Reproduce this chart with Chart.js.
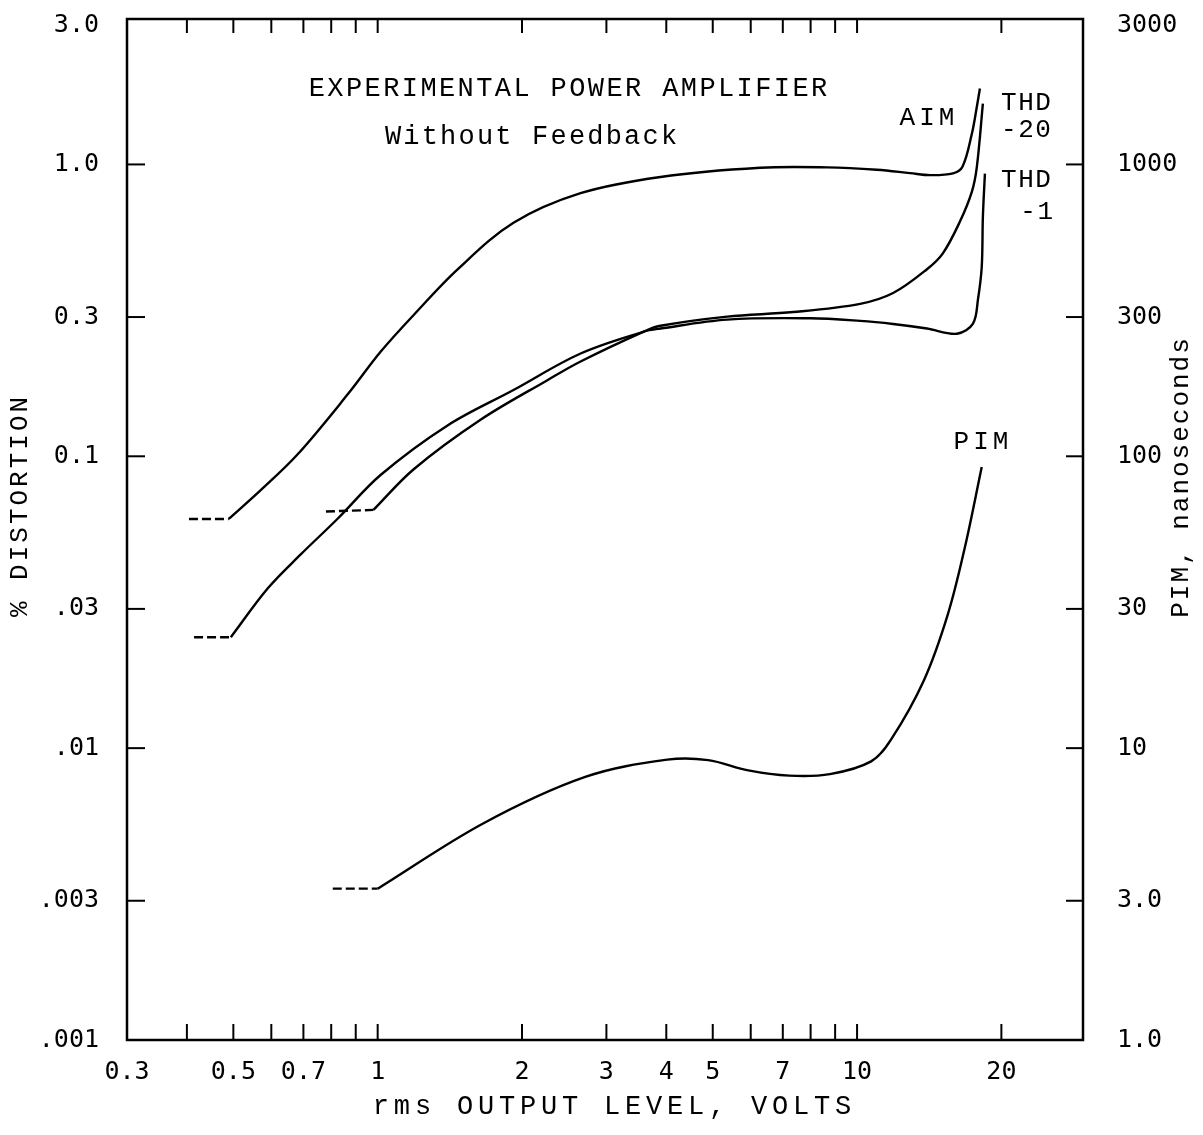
<!DOCTYPE html>
<html>
<head>
<meta charset="utf-8">
<script src="https://cdn.jsdelivr.net/npm/chart.js@4.4.1/dist/chart.umd.min.js"></script>
<style>
  html, body { margin: 0; padding: 0; background: #fff; }
  canvas { display: block; }
</style>
</head>
<body>
<canvas id="ampChart" width="1203" height="1135"></canvas>
<script>
// output level (V rms) vs % distortion
// the first two points of each curve are the dashed lead-in
const aimVolts = [0.404, 0.489, 0.571, 0.681, 0.866, 1.014, 1.189, 1.468, 1.92, 2.65, 3.89, 6.28, 8.66, 11.0, 12.9, 14.2, 15.85, 16.6, 17.36, 17.78, 18.04];
const aimPct   = [0.061, 0.061, 0.0767, 0.1016, 0.163, 0.228, 0.305, 0.437, 0.631, 0.797, 0.906, 0.974, 0.977, 0.959, 0.934, 0.919, 0.932, 0.984, 1.276, 1.58, 1.82];

const thd1Volts = [0.414, 0.494, 0.590, 0.691, 0.825, 1.014, 1.399, 1.92, 2.65, 3.58, 3.89, 5.36, 7.98, 10.15, 11.89, 13.99, 16.16, 17.45, 17.87, 18.2, 18.3, 18.48];
const thd1Pct   = [0.024, 0.024, 0.0353, 0.0461, 0.0611, 0.0863, 0.1276, 0.1687, 0.225, 0.267, 0.274, 0.294, 0.297, 0.291, 0.284, 0.274, 0.263, 0.285, 0.344, 0.446, 0.662, 0.93];

const thd20Volts = [0.78, 0.98, 1.189, 1.639, 2.26, 2.65, 3.58, 3.89, 5.36, 7.36, 10.15, 11.89, 13.99, 15.1, 16.39, 17.36, 17.78, 18.3];
const thd20Pct   = [0.0647, 0.0655, 0.0903, 0.1334, 0.1823, 0.2113, 0.267, 0.280, 0.301, 0.312, 0.333, 0.3626, 0.4375, 0.496, 0.637, 0.807, 0.983, 1.617];

// PIM in nanoseconds (right axis)
const pimVolts = [0.806, 1.0, 1.663, 2.71, 4.02, 4.89, 5.93, 7.22, 8.78, 10.7, 11.77, 13.79, 15.47, 16.79, 18.2];
const pimNs    = [3.3, 3.3, 5.53, 7.97, 9.13, 9.10, 8.39, 8.05, 8.15, 9.01, 10.7, 17.1, 28.8, 48.9, 91.9];

// axes
const xTickValues = [0.3, 0.5, 0.7, 1, 2, 3, 4, 5, 7, 10, 20];
const xTickLabels = ['0.3', '0.5', '0.7', '1', '2', '3', '4', '5', '7', '10', '20'];
const xTickMarks = [0.4, 0.5, 0.6, 0.7, 0.8, 0.9, 1, 2, 3, 4, 5, 6, 7, 8, 9, 10, 20];
const yTickValues = [3, 1, 0.3, 0.1, 0.03, 0.01, 0.003, 0.001];
const yTickLabels = ['3.0', '1.0', '0.3', '0.1', '.03', '.01', '.003', '.001'];
const yTickMarks = [1, 0.3, 0.1, 0.03, 0.01, 0.003];
const y2TickValues = [3000, 1000, 300, 100, 30, 10, 3, 1];
const y2TickLabels = ['3000', '1000', '300', '100', '30', '10', '3.0', '1.0'];
const y2TickMarks = [1000, 300, 100, 30, 10, 3];

const pts = (xs, ys) => xs.map((x, i) => ({ x: x, y: ys[i] }));

function solid(xs, ys, axis) {
    return {
        data: pts(xs, ys).slice(1),
        yAxisID: axis,
        borderColor: '#000',
        borderWidth: 2.4,
        pointRadius: 0,
        fill: false,
        tension: 0.35
    };
}

function dashed(xs, ys, axis) {
    return {
        data: pts(xs, ys).slice(0, 2),
        yAxisID: axis,
        borderColor: '#000',
        borderWidth: 2.4,
        borderDash: [9, 4],
        pointRadius: 0,
        fill: false
    };
}

function say(ctx, text, x, y, size, spacing, align, rot) {
    ctx.save();
    ctx.translate(x, y);
    if (rot) ctx.rotate(rot);
    ctx.font = size + 'px "Liberation Mono", monospace';
    ctx.letterSpacing = spacing + 'px';
    ctx.textBaseline = 'middle';
    ctx.fillStyle = '#000';
    const w = ctx.measureText(text).width - spacing;
    let dx = -w / 2;
    if (align === 'left') dx = 0;
    if (align === 'right') dx = -w;
    ctx.textAlign = 'left';
    ctx.fillText(text, dx, 0);
    ctx.restore();
}

const frame = {
    id: 'frame',
    afterDraw(chart) {
        const { ctx, chartArea: a, scales } = chart;
        ctx.save();
        ctx.strokeStyle = '#000';
        ctx.lineWidth = 2.5;
        ctx.strokeRect(a.left, a.top, a.right - a.left, a.bottom - a.top);
        ctx.lineWidth = 2;
        const line = (x1, y1, x2, y2) => {
            ctx.beginPath(); ctx.moveTo(x1, y1); ctx.lineTo(x2, y2); ctx.stroke();
        };
        xTickMarks.forEach(v => {
            const px = scales.x.getPixelForValue(v);
            line(px, a.bottom, px, a.bottom - 16);
            line(px, a.top, px, a.top + 14);
        });
        yTickMarks.forEach(v => {
            const py = scales.y.getPixelForValue(v);
            line(a.left, py, a.left + 18, py);
        });
        y2TickMarks.forEach(v => {
            const py = scales.y2.getPixelForValue(v);
            line(a.right, py, a.right - 17, py);
        });
        ctx.restore();

        say(ctx, 'EXPERIMENTAL POWER AMPLIFIER', 568, 89, 27, 2.4);
        say(ctx, 'Without Feedback', 531, 137, 27, 2.2);
        say(ctx, 'AIM', 927, 118, 26, 4);
        say(ctx, 'THD', 1026, 103, 26, 1.5);
        say(ctx, '-20', 1026, 130, 26, 1.5);
        say(ctx, 'THD', 1026, 180, 26, 1.5);
        say(ctx, '-1', 1053, 212, 26, 1.5, 'right');
        say(ctx, 'PIM', 981, 442, 26, 4);
        say(ctx, 'rms OUTPUT LEVEL, VOLTS', 612, 1107, 27, 4.8);
        say(ctx, '% DISTORTION', 20, 507, 26, 3, 'center', -Math.PI / 2);
        say(ctx, 'PIM, nanoseconds', 1181, 478, 26, 2, 'center', -Math.PI / 2);
    }
};

const tickFont = { family: '"DejaVu Sans Mono", monospace', size: 25 };

new Chart(document.getElementById('ampChart').getContext('2d'), {
    type: 'line',
    data: {
        datasets: [
            dashed(aimVolts, aimPct, 'y'),
            solid(aimVolts, aimPct, 'y'),
            dashed(thd1Volts, thd1Pct, 'y'),
            solid(thd1Volts, thd1Pct, 'y'),
            dashed(thd20Volts, thd20Pct, 'y'),
            solid(thd20Volts, thd20Pct, 'y'),
            dashed(pimVolts, pimNs, 'y2'),
            solid(pimVolts, pimNs, 'y2')
        ]
    },
    options: {
        responsive: false,
        animation: false,
        devicePixelRatio: 1,
        layout: { padding: { top: 19, left: 0, right: 0, bottom: 0 } },
        plugins: { legend: { display: false }, tooltip: { enabled: false } },
        scales: {
            x: {
                type: 'logarithmic',
                position: 'bottom',
                min: 0.3,
                max: 29.6,
                grid: { display: false, drawTicks: false },
                border: { display: false },
                afterBuildTicks: s => { s.ticks = xTickValues.map(v => ({ value: v })); },
                afterFit: s => { s.height = 95; s.paddingLeft = 0; s.paddingRight = 0; },
                ticks: {
                    autoSkip: false,
                    maxRotation: 0,
                    padding: 17,
                    color: '#000',
                    font: tickFont,
                    callback: (v, i) => xTickLabels[i]
                }
            },
            y: {
                type: 'logarithmic',
                position: 'left',
                min: 0.001,
                max: 3.15,
                grid: { display: false, drawTicks: false },
                border: { display: false },
                afterBuildTicks: s => { s.ticks = yTickValues.map(v => ({ value: v })); },
                afterFit: s => { s.width = 127; s.paddingTop = 0; s.paddingBottom = 0; },
                ticks: {
                    autoSkip: false,
                    padding: 28,
                    color: '#000',
                    font: tickFont,
                    callback: (v, i) => yTickLabels[i]
                }
            },
            y2: {
                type: 'logarithmic',
                position: 'right',
                min: 1,
                max: 3150,
                grid: { display: false, drawTicks: false },
                border: { display: false },
                afterBuildTicks: s => { s.ticks = y2TickValues.map(v => ({ value: v })); },
                afterFit: s => { s.width = 120; s.paddingTop = 0; s.paddingBottom = 0; },
                ticks: {
                    autoSkip: false,
                    padding: 34,
                    color: '#000',
                    font: tickFont,
                    callback: (v, i) => y2TickLabels[i]
                }
            }
        }
    },
    plugins: [frame]
});
</script>
</body>
</html>
